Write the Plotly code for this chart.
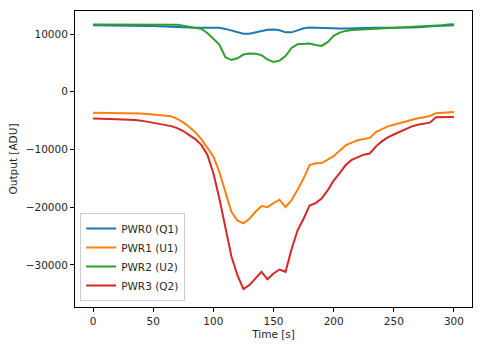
import plotly.graph_objects as go

time_s = list(range(0, 301, 5))

pwr0_q1 = [11550, 11550, 11550, 11530, 11520, 11500, 11500, 11480, 11450, 11420,
           11400, 11380, 11350, 11300, 11250, 11200, 11150, 11100, 11080, 11100,
           11100, 11080, 10900, 10650, 10300, 10050, 10050, 10300, 10600, 10750,
           10800, 10650, 10300, 10300, 10650, 11000, 11150, 11100, 11000, 10950,
           10950, 10950, 10950, 11000, 11000, 11050, 11050, 11100, 11100, 11100,
           11050, 11050, 11100, 11150, 11200, 11300, 11350, 11400, 11450, 11500,
           11550]

pwr1_u1 = [-3650, -3650, -3650, -3700, -3700, -3700, -3750, -3750, -3780, -3850,
           -3950, -4050, -4150, -4250, -4700, -5300, -6100, -7000, -8200, -9700,
           -11200, -13900, -17500, -20800, -22300, -22800, -22000, -20800, -19800, -20000,
           -19300, -18700, -20000, -18800, -17000, -15000, -12700, -12400, -12350, -11800,
           -11150, -10200, -9300, -8800, -8400, -8200, -8000, -7000, -6500, -6000,
           -5700, -5400, -5100, -4850, -4600, -4400, -4200, -3700, -3600, -3500,
           -3500]

pwr2_u2 = [11650, 11650, 11650, 11650, 11650, 11650, 11650, 11650, 11650, 11640,
           11630, 11620, 11610, 11600, 11600, 11450, 11300, 11150, 10900, 10200,
           9200, 8200, 6000, 5500, 5800, 6450, 6650, 6600, 6350, 5600,
           5150, 5400, 6200, 7600, 8250, 8350, 8350, 8100, 7950, 8600,
           9700, 10250, 10550, 10700, 10750, 10800, 10850, 10900, 11000, 11050,
           11100, 11150, 11250, 11300, 11350, 11400, 11450, 11500, 11550, 11650,
           11700]

pwr3_q2 = [-4650, -4650, -4700, -4700, -4750, -4800, -4820, -4900, -5000, -5200,
           -5350, -5500, -5700, -5950, -6300, -6800, -7500, -8200, -9200, -10900,
           -14100, -18500, -23500, -28500, -31800, -34200, -33500, -32300, -31200, -32500,
           -31500, -30800, -31200, -27300, -24000, -22000, -19700, -19300, -18500, -17100,
           -15400, -14100, -12700, -11800, -11300, -10900, -10700, -9500, -8600, -7900,
           -7400, -6900, -6400, -6000, -5700, -5500, -5350, -4400, -4350, -4350,
           -4350]

series = [
    ("PWR0 (Q1)", pwr0_q1, "#1f77b4"),
    ("PWR1 (U1)", pwr1_u1, "#ff7f0e"),
    ("PWR2 (U2)", pwr2_u2, "#2ca02c"),
    ("PWR3 (Q2)", pwr3_q2, "#d62728"),
]

x_ticks = [0, 50, 100, 150, 200, 250, 300]
y_ticks = [-30000, -20000, -10000, 0, 10000]
y_tick_text = [("\u2212" + str(-v)) if v < 0 else str(v) for v in y_ticks]

fig = go.Figure()
for name, vals, color in series:
    fig.add_trace(go.Scatter(x=time_s, y=vals, mode="lines", name=name,
                             line=dict(color=color, width=2)))

font = dict(family="DejaVu Sans", size=10.5, color="#262626")
axis_common = dict(showline=True, linecolor="black", linewidth=1, mirror=True,
                   ticks="outside", ticklen=4, tickcolor="black", showgrid=False,
                   zeroline=False, tickfont=font, automargin=False)

fig.update_layout(
    width=483, height=347,
    margin=dict(l=75, r=11, t=11, b=40),
    paper_bgcolor="white", plot_bgcolor="white",
    font=font,
    xaxis=dict(range=[-15, 315], tickvals=x_ticks,
               title=dict(text="Time [s]", font=font, standoff=5), **axis_common),
    yaxis=dict(range=[-37300, 14000], tickvals=y_ticks, ticktext=y_tick_text,
               title=dict(text="Output [ADU]", font=font, standoff=6), **axis_common),
    legend=dict(x=0.013, y=0.02, xanchor="left", yanchor="bottom",
                bgcolor="rgba(255,255,255,0.8)", bordercolor="#cccccc", borderwidth=1,
                font=font, tracegroupgap=0),
    showlegend=True,
)

fig.write_html("out.html")
